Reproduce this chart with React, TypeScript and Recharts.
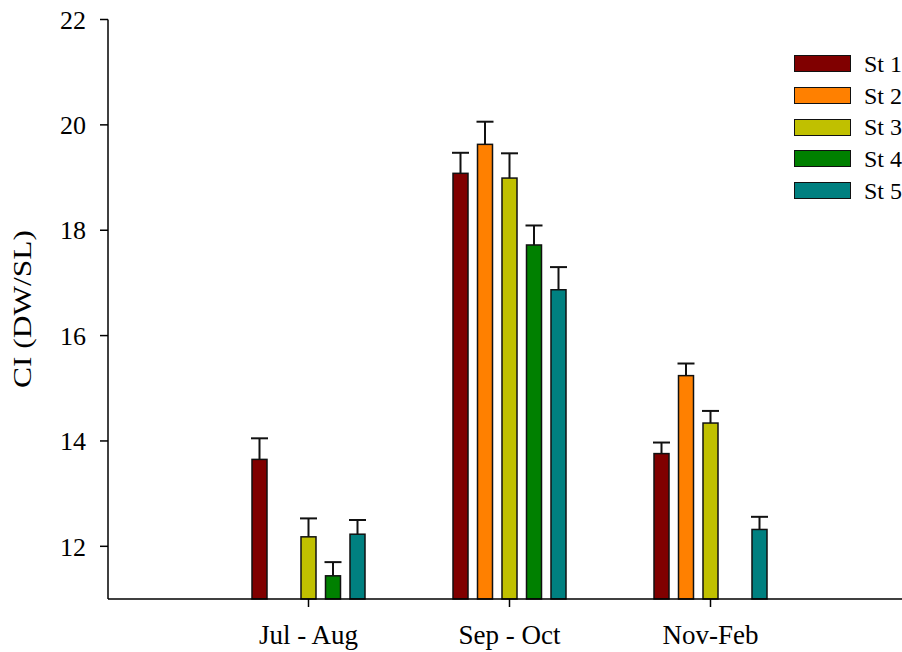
import React from 'react';
import { BarChart, Bar, XAxis, YAxis } from 'recharts';

const categories = ['Jul - Aug', 'Sep - Oct', 'Nov-Feb'];
const seriesNames = ['St 1', 'St 2', 'St 3', 'St 4', 'St 5'];
const seriesColors = ['#800000', '#ff8000', '#c0c000', '#008000', '#008080'];

const st1 = [13.65, 19.08, 13.76];
const st2 = [null, 19.63, 15.24];
const st3 = [12.18, 18.99, 14.34];
const st4 = [11.44, 17.72, null];
const st5 = [12.23, 16.87, 12.32];

const st1Err = [0.4, 0.39, 0.21];
const st2Err = [null, 0.43, 0.23];
const st3Err = [0.35, 0.47, 0.23];
const st4Err = [0.26, 0.37, null];
const st5Err = [0.27, 0.43, 0.24];

const yTicks = [12, 14, 16, 18, 20, 22];
const Y_MIN = 11;

const values = [st1, st2, st3, st4, st5];
const errs = [st1Err, st2Err, st3Err, st4Err, st5Err];

const data = categories.map((c, i) => {
  const row: Record<string, unknown> = { name: c };
  values.forEach((v, s) => {
    row[`s${s}`] = v[i];
    row[`e${s}`] = errs[s][i];
  });
  return row;
});

const FONT = '"Liberation Serif", "Times New Roman", serif';

// bar with an upward-only error whisker, scaled from the bar's own pixel height
const barWithError = (s: number) => (props: any) => {
  const { x, y, width, height, fill, payload } = props;
  const v = payload[`s${s}`];
  const e = payload[`e${s}`];
  if (v == null || height == null) return <g />;
  const pxPerUnit = height / (v - Y_MIN);
  const cx = x + width / 2;
  const top = y - (e ?? 0) * pxPerUnit;
  return (
    <g>
      <rect x={x} y={y} width={width} height={height} fill={fill}
        stroke="#111" strokeWidth={1.5} />
      {e != null && (
        <g stroke="#111" strokeWidth={2}>
          <line x1={cx} y1={y} x2={cx} y2={top} />
          <line x1={cx - 8.5} y1={top} x2={cx + 8.5} y2={top} />
        </g>
      )}
    </g>
  );
};

const LegendBox = () => (
  <div style={{
    position: 'absolute', left: 794, top: 48,
    fontFamily: FONT, fontSize: 24, color: '#000', lineHeight: 1,
  }}>
    {seriesNames.map((n, i) => (
      <div key={n} style={{ display: 'flex', alignItems: 'center', height: 31.7 }}>
        <div style={{
          width: 55, height: 15, background: seriesColors[i],
          border: '1.5px solid #111', marginRight: 13,
        }} />
        <span>{n}</span>
      </div>
    ))}
  </div>
);

const YLabel = () => (
  <text x={22} y={309} transform="rotate(-90, 22, 309)" textAnchor="middle"
    dominantBaseline="central" fontFamily={FONT} fontSize={26} fill="#000"
    textLength={158} lengthAdjust="spacingAndGlyphs">
    CI (DW/SL)
  </text>
);

export default function App() {
  return (
    <div style={{ position: 'fixed', left: 0, top: 0, width: 902, height: 652, background: '#fff' }}>
      <BarChart width={902} height={652} data={data}
        margin={{ top: 19.5, right: 0, left: 0, bottom: 0 }}
        barSize={15} barGap={9.5}>
        <XAxis dataKey="name" height={53} padding={{ left: 100, right: 91 }}
          axisLine={{ stroke: '#000', strokeWidth: 1.5 }}
          tickLine={{ stroke: '#000', strokeWidth: 1.5 }} tickSize={8} tickMargin={18}
          tick={{ fill: '#000', fontSize: 27, fontFamily: FONT }} />
        <YAxis width={108} domain={[Y_MIN, 22]} ticks={yTicks} interval={0}
          axisLine={{ stroke: '#000', strokeWidth: 1.5 }}
          tickLine={{ stroke: '#000', strokeWidth: 1.5 }} tickSize={8} tickMargin={14}
          tick={{ fill: '#000', fontSize: 26, fontFamily: FONT }}
          label={{ content: () => <YLabel /> }} />
        {seriesNames.map((n, s) => (
          <Bar key={n} dataKey={`s${s}`} name={n} fill={seriesColors[s]}
            shape={barWithError(s)} isAnimationActive={false} />
        ))}
      </BarChart>
      <LegendBox />
    </div>
  );
}
